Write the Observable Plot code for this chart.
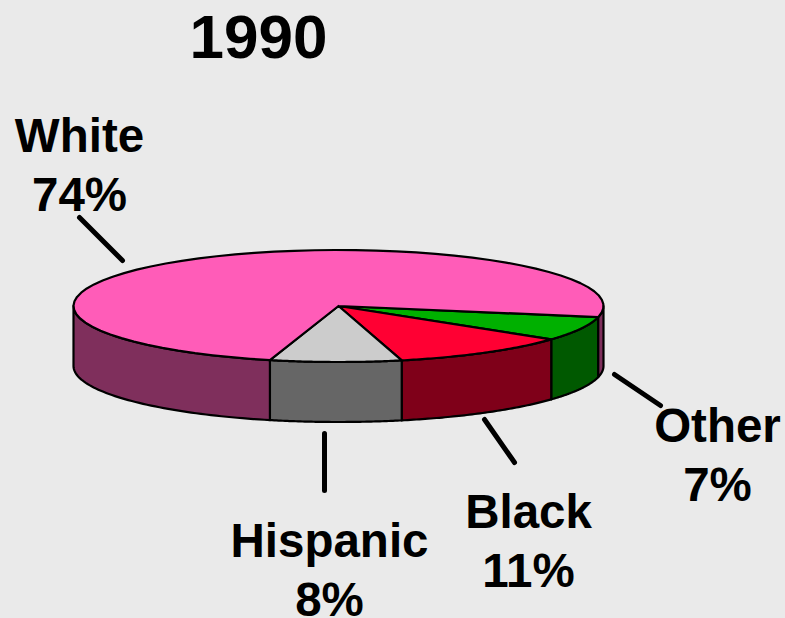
<!DOCTYPE html>
<html>
<head>
<meta charset="utf-8">
<script src="https://cdn.jsdelivr.net/npm/d3@7"></script>
<script src="https://cdn.jsdelivr.net/npm/@observablehq/plot@0.6"></script>
<style>
  html, body { margin: 0; padding: 0; background: #eaeaea; }
  svg { display: block; }
</style>
</head>
<body>
<div id="chart"></div>
<script>
// Data
const chartTitle = "1990";
const categories = ["Other", "Black", "Hispanic", "White"];
const shares = [7, 11, 8, 74];

// Colours per slice
const topColors = ["#00b000", "#ff0033", "#cccccc", "#ff5cb8"];
const sideColors = ["#005900", "#7f0019", "#666666", "#7f2f5c"];

// Pie geometry (page pixels for the ellipse, used only to set the scales)
const W = 785, H = 618, cx = 338, cy = 305.5, rx = 265, ry = 56, depth = 60 / ry, startDeg = 11.4;
const ux = px => (px - cx) / rx;
const uy = px => (px - cy) / ry;

// Slices → polygons in pie units
let acc = startDeg;
const slices = categories.map((name, i) => {
  const a0 = acc, a1 = acc + shares[i] * 3.6;
  acc = a1;
  return {name, a0, a1, top: topColors[i], side: sideColors[i]};
});
const arc = (a0, a1, dy = 0) => d3.range(0, 61).map(k => {
  const t = (a0 + (a1 - a0) * k / 60) * Math.PI / 180;
  return [Math.cos(t), Math.sin(t) + dy];
});
const tops = [], sides = [];
slices.forEach(s => {
  [[s.name, 0, s.a0, s.a1], [s.name, 1, s.a0 - 360, s.a1 - 360]].forEach(([n, w, a, b]) => {
    const lo = Math.max(a, 0), hi = Math.min(b, 180);
    if (hi <= lo) return;
    const pts = [...arc(lo, hi), ...arc(lo, hi, depth).reverse()];
    pts.push(pts[0]);
    pts.forEach(([x, y]) => sides.push({x, y, id: `${n}-${w}`, color: s.side}));
  });
  const pts = [[0, 0], ...arc(s.a0, s.a1), [0, 0]];
  pts.forEach(([x, y]) => tops.push({x, y, id: s.name, color: s.top}));
});

// Callouts: label anchor and leader line in page pixels, converted to pie units
const callouts = [
  {name: "White", lx: 79, ly: 210, x1: 79, y1: 217, x2: 122, y2: 260},
  {name: "Hispanic", lx: 329, ly: 615, x1: 324, y1: 433, x2: 324, y2: 490},
  {name: "Black", lx: 528, ly: 586, x1: 484, y1: 419, x2: 514, y2: 462},
  {name: "Other", lx: 717, ly: 500, x1: 614, y1: 374, x2: 660, y2: 405}
].map(c => ({
  ...c,
  text: `${c.name}\n${shares[categories.indexOf(c.name)]}%`,
  lx: ux(c.lx), ly: uy(c.ly), x1: ux(c.x1), y1: uy(c.y1), x2: ux(c.x2), y2: uy(c.y2)
}));

const font = "'Liberation Sans', Arial, Helvetica, sans-serif";

const chart = Plot.plot({
  width: W,
  height: H,
  margin: 0,
  style: {background: "#eaeaea"},
  x: {domain: [ux(0), ux(W)], range: [0, W], axis: null},
  y: {domain: [uy(0), uy(H)], range: [0, H], axis: null},
  color: {type: "identity"},
  marks: [
    Plot.line(sides, {x: "x", y: "y", z: "id", fill: "color", stroke: "black", strokeWidth: 2.2, strokeLinejoin: "round"}),
    Plot.line(tops, {x: "x", y: "y", z: "id", fill: "color", stroke: "black", strokeWidth: 2.2, strokeLinejoin: "round"}),
    Plot.link(callouts, {x1: "x1", y1: "y1", x2: "x2", y2: "y2", stroke: "black", strokeWidth: 5, strokeLinecap: "round"}),
    Plot.text(callouts, {x: "lx", y: "ly", text: "text", lineAnchor: "bottom", textAnchor: "middle", lineHeight: 1.24, fontSize: 47.5, fontWeight: "bold", fontFamily: font, fill: "black"}),
    Plot.text([chartTitle], {x: ux(258), y: uy(57), text: d => d, lineAnchor: "bottom", textAnchor: "middle", fontSize: 62, fontWeight: "bold", fontFamily: font, fill: "black"})
  ]
});
document.getElementById("chart").append(chart);
</script>
</body>
</html>
